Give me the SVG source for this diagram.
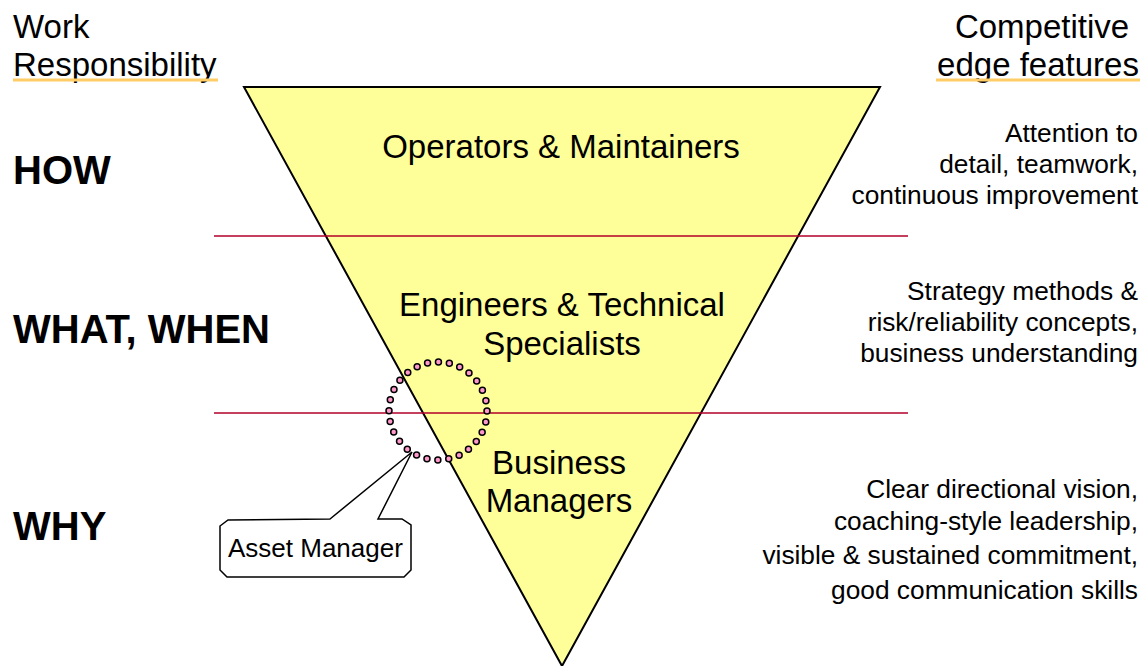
<svg xmlns="http://www.w3.org/2000/svg" width="1148" height="666" viewBox="0 0 1148 666">
<style>
text{font-family:"Liberation Sans",Arial,sans-serif;fill:#000}
.hd{font-size:33px}
.big{font-size:33px;text-anchor:middle}
.lvl{font-size:40px;font-weight:bold}
.r{font-size:26.3px;text-anchor:end}
.ul{stroke:#ffcc66;stroke-width:3}
.sep{stroke:#b00028;stroke-width:1.5}
</style>
<rect width="1148" height="666" fill="#fff"/>
<g id="pyramid">
<polygon points="244,87 880,87 562,666" fill="#ffff99" stroke="#000" stroke-width="2"/>
</g>
<g id="connectors">
<line class="sep" x1="214" y1="236" x2="908" y2="236"/>
<line class="sep" x1="214" y1="413" x2="908" y2="413"/>
</g>
<g id="headers">
<text class="hd" x="13" y="38">Work</text>
<text class="hd" x="13" y="76">Responsibility</text>
<line class="ul" x1="13" y1="80" x2="218" y2="80"/>
<text class="hd" x="1042" y="38" text-anchor="middle">Competitive</text>
<text class="hd" x="1038" y="76" text-anchor="middle">edge features</text>
<line class="ul" x1="936" y1="80" x2="1140" y2="80"/>
</g>
<g id="levels">
<text class="lvl" x="13" y="184">HOW</text>
<text class="lvl" x="13" y="343">WHAT, WHEN</text>
<text class="lvl" x="13" y="540">WHY</text>
</g>
<g id="operators"><text class="big" x="561" y="158">Operators &amp; Maintainers</text></g>
<g id="engineers"><text class="big" x="562" y="316">Engineers &amp; Technical</text><text class="big" x="562" y="355">Specialists</text></g>
<g id="managers"><text class="big" x="559" y="474">Business</text><text class="big" x="559" y="512">Managers</text></g>
<g id="features-how">
<text class="r" x="1138" y="142">Attention to</text>
<text class="r" x="1138" y="173">detail, teamwork,</text>
<text class="r" x="1138" y="204">continuous improvement</text>
</g>
<g id="features-what">
<text class="r" x="1138" y="300">Strategy methods &amp;</text>
<text class="r" x="1138" y="331">risk/reliability concepts,</text>
<text class="r" x="1138" y="362">business understanding</text>
</g>
<g id="features-why">
<text class="r" x="1138" y="498">Clear directional vision,</text>
<text class="r" x="1138" y="530">coaching-style leadership,</text>
<text class="r" x="1138" y="564">visible &amp; sustained commitment,</text>
<text class="r" x="1138" y="599">good communication skills</text>
</g>
<g id="asset-circle">
<circle cx="438" cy="411" r="49" fill="none" stroke="#000" stroke-width="7.5" stroke-linecap="round" stroke-dasharray="0 11"/>
<circle cx="438" cy="411" r="49" fill="none" stroke="#ff99cc" stroke-width="4.5" stroke-linecap="round" stroke-dasharray="0 11"/>
</g>
<g id="asset-manager">
<path d="M330,519 L412,452 L378,519 L402,519 L411,525 L411,570 L404,577 L227,577 L220,570 L220,526 L228,520 Z" fill="#fff" stroke="#000" stroke-width="1.5"/>
<text x="228" y="557" style="font-size:26px">Asset Manager</text>
</g>
</svg>
